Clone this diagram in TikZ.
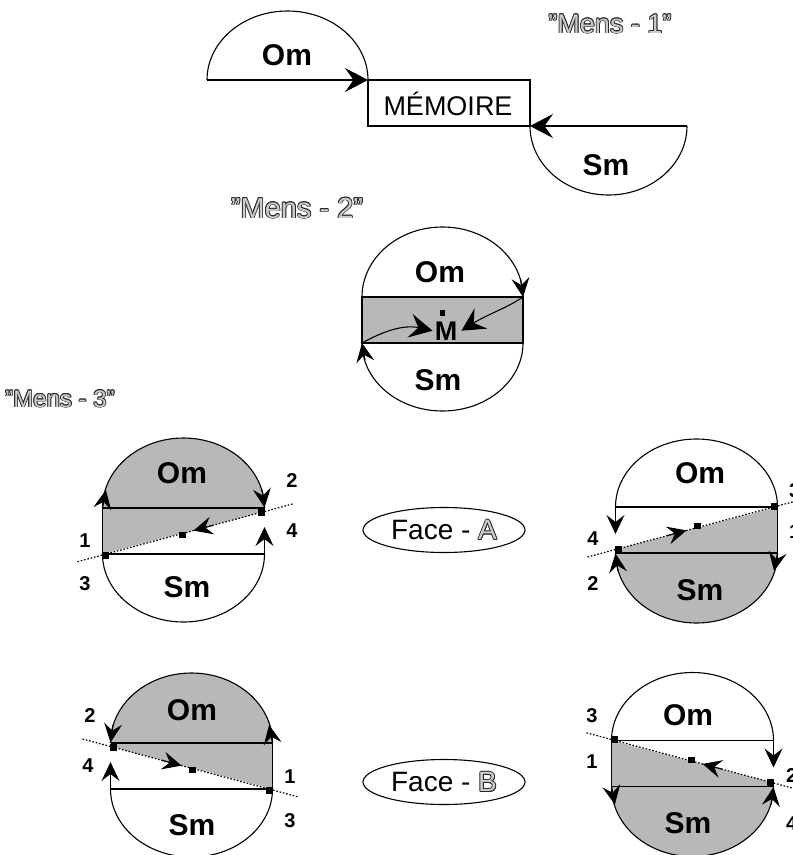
\documentclass[tikz,border=0pt]{standalone}
\usepackage{fontspec}
\setmainfont{Liberation Sans}
\usetikzlibrary{arrows.meta,shapes.geometric}
\definecolor{holline}{gray}{0.15}
\definecolor{holfill}{gray}{0.8}
\definecolor{shadegray}{gray}{0.72}
\newcommand\holtext[1]{\leavevmode
\rlap{\color{holline}\kern0.9pt#1}%
\rlap{\color{holline}\kern-0.9pt#1}%
\rlap{\color{holline}\raisebox{0.9pt}{#1}}%
\rlap{\color{holline}\raisebox{-0.9pt}{#1}}%
\rlap{\color{holline}\kern0.64pt\raisebox{0.64pt}{#1}}%
\rlap{\color{holline}\kern-0.64pt\raisebox{0.64pt}{#1}}%
\rlap{\color{holline}\kern0.64pt\raisebox{-0.64pt}{#1}}%
\rlap{\color{holline}\kern-0.64pt\raisebox{-0.64pt}{#1}}%
{\color{holfill}#1}}
\newcommand\facediag[1]{%
\begin{scope}[#1]
\fill[shade] (-81,23) -- (81,-19.5) -- (81,-23) arc[start angle=0,end angle=-180,x radius=81,y radius=70] -- cycle;
\draw[ln] (-81,-23) arc[start angle=180,end angle=360,x radius=81,y radius=70];
\draw[ln] (-81,23) arc[start angle=180,end angle=0,x radius=81,y radius=68];
\draw[ln] (-81,-23) -- (81,-23);
\draw[ln] (-81,23) -- (81,23);
\draw[ln] (-81,-23) -- (-81,23);
\draw[tipS] (81,23) -- (81,-4);
\draw[dotln] (-106,30.7) -- (110,-27.3);
\fill (-81.5,20.5) rectangle (-74.5,27.5);
\fill (74.5,-22.5) rectangle (81.5,-15.5);
\fill (-4.5,1) rectangle (2.5,7);
\draw[tipS] (-81,-23) -- (-77.6,-41);
\draw[tipS] (78.6,-41) -- (81,-23.5);
\draw[tipS] (30,-5.8) -- (10,-0.4);
\end{scope}}
\begin{document}
\begin{tikzpicture}[x=1pt,y=-1pt,
 ln/.style={line width=1.1pt},
 tipS/.style={line width=1.1pt,-{Stealth[length=19pt,width=18pt,inset=7pt]}},
 tipL/.style={line width=1.1pt,-{Stealth[length=23pt,width=24pt,inset=8.5pt]}},
 dotln/.style={line width=1.2pt,dash pattern=on 1.6pt off 1.8pt},
 shade/.style={fill=shadegray},
 lbl/.style={font=\bfseries\fontsize{30}{30}\selectfont,inner sep=0pt,anchor=base},
 num/.style={font=\bfseries\fontsize{20}{20}\selectfont,inner sep=0pt,anchor=base},
 mens/.style={font=\fontsize{27}{27}\selectfont,inner sep=0pt,anchor=base},
 facebox/.style={draw,ellipse,line width=1.1pt,minimum width=162pt,minimum height=45pt,inner sep=0pt,font=\fontsize{28}{28}\selectfont}]
\useasboundingbox (0,0) rectangle (793,855);
% ---------- Mens 1 ----------
\coordinate (omL) at (207,80);
\coordinate (boxTL) at (368,80);
\coordinate (boxTR) at (530,80);
\coordinate (boxBL) at (368,126);
\coordinate (boxBR) at (530,126);
\coordinate (smR) at (687,126);
\draw[ln] (omL) arc[start angle=180,end angle=360,x radius=80.5,y radius=69];
\draw[tipL] (omL) -- (boxTL);
\draw[ln] (boxTL) -- (boxTR) -- (boxBR);
\draw[ln] (boxTL) -- (boxBL) -- (boxBR);
\draw[tipL] (smR) -- (boxBR);
\draw[ln] (boxBR) arc[start angle=180,end angle=0,x radius=78.5,y radius=69];
\node[lbl] (om1) at (287,65) {Om};
\node[lbl] (sm1) at (606,175) {Sm};
\node[font=\fontsize{27}{27}\selectfont,inner sep=0pt,anchor=base] (mem) at (448,115) {MÉMOIRE};
\node[mens] (m1) at (610,33) {\holtext{"Mens - 1"}};
% ---------- Mens 2 ----------
\coordinate (TL) at (362,297);
\coordinate (TR) at (523,297);
\coordinate (BL) at (362,343);
\coordinate (BR) at (523,343);
\fill[shade] (TL) rectangle (BR);
\draw[ln] (TL) rectangle (BR);
\draw[ln] (TL) arc[start angle=180,end angle=360,x radius=80.5,y radius=70];
\draw[ln] (BL) arc[start angle=180,end angle=0,x radius=80.5,y radius=68];
\draw[tipS] (520.6,279) -- (TR);
\draw[tipS] (365,360) -- (BL);
\node[font=\bfseries\fontsize{27}{27}\selectfont,inner sep=0pt,anchor=base] (M) at (446,340) {M};
\fill (439.5,309.5) rectangle (444.5,315.5);
\draw[tipL] (TR) .. controls (505,309) and (488,314) .. ([xshift=4pt]M.east);
\draw[tipL] (BL) .. controls (380,333) and (402,324) .. ([xshift=-2pt]M.west);
\node[lbl] (om2) at (440,282) {Om};
\node[lbl] (sm2) at (438,390) {Sm};
\node[mens,font=\fontsize{29}{29}\selectfont] (m2) at (297,218) {\holtext{"Mens - 2"}};
% ---------- Mens 3 ----------
\node[mens,font=\fontsize{24}{24}\selectfont] (m3) at (60,407) {\holtext{"Mens - 3"}};
\facediag{shift={(183.5,531)}}
\facediag{shift={(696.5,530)},rotate=180}
\facediag{shift={(191.5,766)},xscale=-1}
\facediag{shift={(692.5,763.5)},yscale=-1}
\node[facebox] (faceA) at (444,530) {Face - \holtext{A}};
\node[facebox] (faceB) at (444,782) {Face - \holtext{B}};
% labels Face A left
\node[lbl] (aOm) at (182,483) {Om};
\node[lbl] (aSm) at (187,597) {Sm};
\node[num] (a2) at (292,487) {2};
\node[num] (a4) at (292,537) {4};
\node[num] (a1) at (85,547) {1};
\node[num] (a3) at (85,590) {3};
% labels Face A right
\node[lbl] (arOm) at (700,483) {Om};
\node[lbl] (arSm) at (700,600) {Sm};
\node[num,anchor=base west] (ar3) at (789,497) {3};
\node[num,anchor=base west] (ar1) at (789,538) {1};
\node[num] (ar4) at (593,545) {4};
\node[num] (ar2) at (593,590) {2};
% labels Face B left
\node[lbl] (bOm) at (192,720) {Om};
\node[lbl] (bSm) at (192,835) {Sm};
\node[num] (b2) at (90,722) {2};
\node[num] (b4) at (88,772) {4};
\node[num] (b1) at (290,783) {1};
\node[num] (b3) at (290,827) {3};
% labels Face B right
\node[lbl] (brOm) at (688,725) {Om};
\node[lbl] (brSm) at (688,833) {Sm};
\node[num] (br3) at (592,722) {3};
\node[num] (br1) at (592,768) {1};
\node[num,anchor=base west] (br2) at (786,782) {2};
\node[num,anchor=base west] (br4) at (786,830) {4};
\end{tikzpicture}
\end{document}
